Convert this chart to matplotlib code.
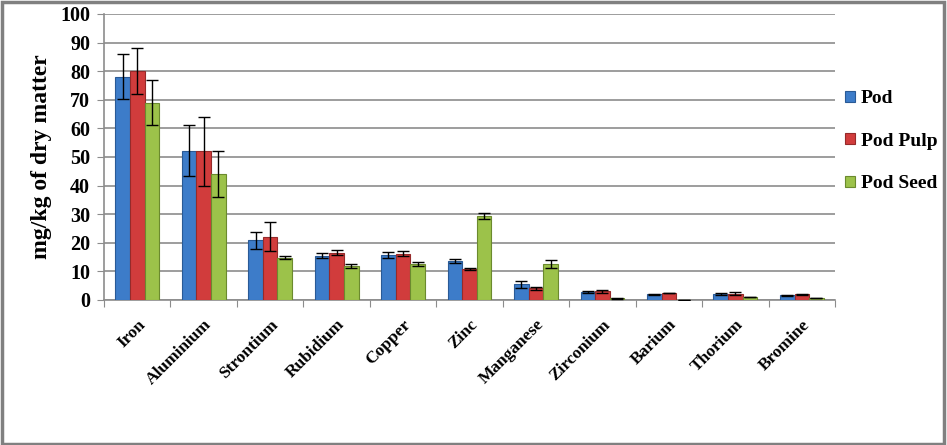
import matplotlib
matplotlib.use('Agg')
import matplotlib.pyplot as plt
import numpy as np
from matplotlib.patches import Rectangle

# DATA
elements = ['Iron', 'Aluminium', 'Strontium', 'Rubidium', 'Copper', 'Zinc',
            'Manganese', 'Zirconium', 'Barium', 'Thorium', 'Bromine']
pod = [78.1, 52.2, 20.9, 15.5, 15.6, 13.5, 5.4, 2.6, 1.9, 2.0, 1.6]
pod_err = [8.0, 9.0, 3.0, 1.0, 1.0, 0.7, 1.2, 0.35, 0.1, 0.4, 0.1]
pulp = [80.0, 51.9, 22.1, 16.5, 16.2, 10.7, 4.0, 3.0, 2.4, 2.2, 1.9]
pulp_err = [8.0, 12.0, 5.0, 0.9, 0.8, 0.4, 0.6, 0.6, 0.15, 0.45, 0.1]
seed = [69.0, 43.9, 14.8, 11.7, 12.5, 29.4, 12.4, 0.5, 0.1, 0.9, 0.6]
seed_err = [8.0, 8.0, 0.5, 0.7, 0.6, 1.0, 1.4, 0.1, 0.0, 0.05, 0.05]

series = [('Pod', pod, pod_err, '#3d7cc9', '#2a5a96'),
          ('Pod Pulp', pulp, pulp_err, '#d13c3c', '#962a2a'),
          ('Pod Seed', seed, seed_err, '#9cc24a', '#6b8a2e')]

plt.rcParams['font.family'] = ['Liberation Serif', 'DejaVu Serif']
plt.rcParams['font.weight'] = 'bold'

fig = plt.figure(figsize=(9.47, 4.45), dpi=100)
ax = fig.add_axes([0.1098, 0.326, 0.772, 0.6427])

x = np.arange(len(elements))
w = 0.22
for i, (name, vals, errs, col, edge) in enumerate(series):
    ax.bar(x + (i - 1) * w, vals, w, color=col, edgecolor=edge, linewidth=0.8,
           label=name, zorder=3,
           yerr=errs, error_kw=dict(ecolor='black', elinewidth=1.0, capsize=4, capthick=1.0, zorder=4))

ax.set_xlim(-0.5, len(elements) - 0.5)
ax.set_ylim(0, 100)
ax.set_yticks(range(0, 101, 10))
ax.yaxis.grid(True, color='#8c8c8c', linewidth=1.2, zorder=0)
ax.set_axisbelow(True)
for s in ['top', 'right']:
    ax.spines[s].set_visible(False)
for s in ['left', 'bottom']:
    ax.spines[s].set_color('#8c8c8c')
    ax.spines[s].set_linewidth(1.2)

ax.set_xticks(np.arange(len(elements) + 1) - 0.5, minor=False)
ax.set_xticklabels([])
ax.set_xticks(x, minor=True)
ax.set_xticklabels(elements, minor=True, rotation=45, ha='right', rotation_mode='anchor',
                   fontsize=12.5, fontweight='bold')
ax.tick_params(axis='x', which='minor', length=0, pad=12)
ax.tick_params(axis='x', which='major', length=5, color='#8c8c8c', direction='out')
ax.tick_params(axis='y', length=5, color='#8c8c8c', labelsize=14.5, pad=5)
for lab in ax.get_yticklabels():
    lab.set_fontweight('bold')

ax.set_ylabel('mg/kg of dry matter', fontsize=17, fontweight='bold', labelpad=6)

ax.legend(loc='center left', bbox_to_anchor=(0.99, 0.555), frameon=False,
          prop={'size': 14, 'weight': 'bold'}, handlelength=0.5, handleheight=0.5,
          handletextpad=0.3, labelspacing=1.3)

fig.patches.append(Rectangle((0.002, 0.003), 0.995, 0.993, transform=fig.transFigure,
                             fill=False, edgecolor='#808080', linewidth=2.5))

fig.savefig('out.png', dpi=100)
